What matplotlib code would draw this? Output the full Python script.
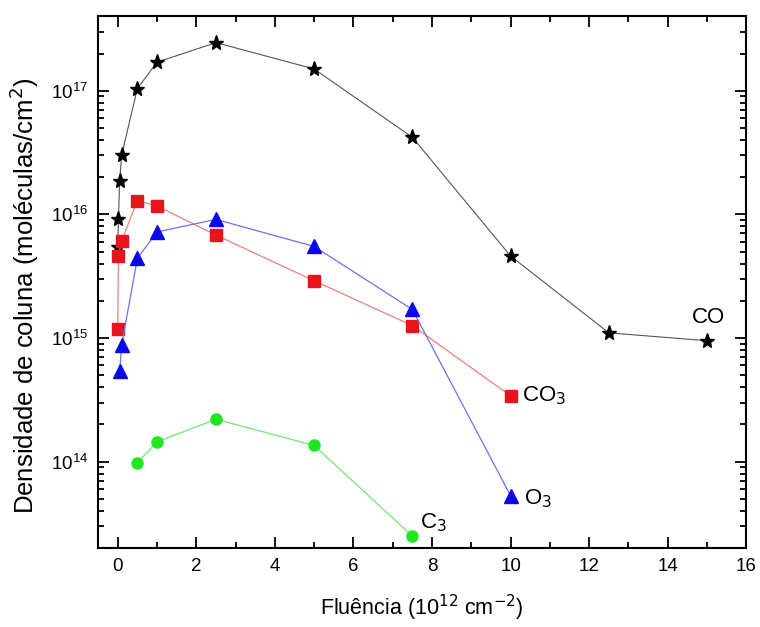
import numpy as np
import matplotlib.pyplot as plt
from matplotlib.ticker import LogLocator, MultipleLocator, NullFormatter

plt.rcParams['font.family'] = ['Liberation Sans', 'DejaVu Sans']

# fluence (10^12 cm^-2) and column density (molecules/cm^2)
co_x = [0, 0.02, 0.05, 0.1, 0.5, 1, 2.5, 5, 7.5, 10, 12.5, 15]
co_y = [5.4e15, 9.1e15, 1.87e16, 3.0e16, 1.04e17, 1.7e17, 2.45e17, 1.5e17, 4.2e16, 4.6e15, 1.1e15, 9.5e14]

co3_x = [0, 0.02, 0.1, 0.5, 1, 2.5, 5, 7.5, 10]
co3_y = [1.18e15, 4.6e15, 6.1e15, 1.29e16, 1.17e16, 6.8e15, 2.9e15, 1.26e15, 3.4e14]

o3_x = [0.05, 0.1, 0.5, 1, 2.5, 5, 7.5, 10]
o3_y = [5.4e14, 8.7e14, 4.4e15, 7.2e15, 9.1e15, 5.5e15, 1.7e15, 5.3e13]

c3_x = [0.5, 1, 2.5, 5, 7.5]
c3_y = [9.8e13, 1.44e14, 2.2e14, 1.35e14, 2.5e13]

fig = plt.figure(figsize=(7.6, 6.27), dpi=100)
ax = fig.add_axes([0.129, 0.126, 0.853, 0.848])

ax.plot(co_x, co_y, '-', color='#555555', lw=0.8)
ax.plot(co_x, co_y, '*', color='black', ms=11, ls='none')
ax.plot(co3_x, co3_y, '-', color='#f08080', lw=0.9)
ax.plot(co3_x, co3_y, 's', color='#e8141c', ms=8, ls='none')
ax.plot(o3_x, o3_y, '-', color='#7070e8', lw=0.9)
ax.plot(o3_x, o3_y, '^', color='#0a0ae6', ms=10, ls='none')
ax.plot(c3_x, c3_y, '-', color='#70e870', lw=0.9)
ax.plot(c3_x, c3_y, 'o', color='#22e622', ms=8, ls='none')

ax.text(14.62, 1.2e15, 'CO', fontsize=16, ha='left', va='bottom')
ax.text(10.3, 3.4e14, 'CO$_3$', fontsize=16, ha='left', va='center')
ax.text(10.35, 5.0e13, 'O$_3$', fontsize=16, ha='left', va='center')
ax.text(7.7, 3.2e13, 'C$_3$', fontsize=16, ha='left', va='center')

ax.set_yscale('log')
ax.set_xlim(-0.5, 16)
ax.set_ylim(2e13, 4e17)
ax.xaxis.set_major_locator(MultipleLocator(2))
ax.xaxis.set_minor_locator(MultipleLocator(1))
ax.yaxis.set_major_locator(LogLocator(base=10))
ax.yaxis.set_minor_locator(LogLocator(base=10, subs=np.arange(2, 10)))
ax.yaxis.set_minor_formatter(NullFormatter())

ax.tick_params(which='both', direction='in', top=True, right=True, width=1.3)
ax.tick_params(which='major', length=8, labelsize=13.5, pad=7)
ax.tick_params(which='minor', length=4)
for s in ax.spines.values():
    s.set_linewidth(1.5)

ax.set_xlabel('Fluência (10$^{12}$ cm$^{-2}$)', fontsize=15.5, labelpad=13)
ax.set_ylabel('Densidade de coluna (moléculas/cm$^2$)', fontsize=18.5)
ax.yaxis.set_label_coords(-0.088, 0.475)

fig.savefig('out.png', dpi=100)
